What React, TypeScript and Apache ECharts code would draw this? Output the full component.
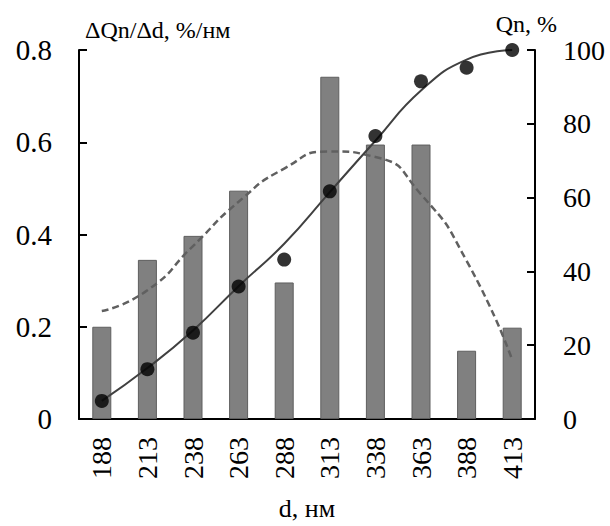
import React, { useEffect, useRef } from "react";
import * as echarts from "echarts";

const categories = ["188", "213", "238", "263", "288", "313", "338", "363", "388", "413"];
const barValues = [0.2, 0.345, 0.397, 0.495, 0.296, 0.742, 0.595, 0.595, 0.148, 0.198];
const dotValues = [4.9, 13.5, 23.4, 35.9, 43.2, 61.7, 76.7, 91.5, 95.2, 100];
const solidCurve = [4.9, 13.8, 24.0, 36.0, 47.5, 61.5, 75.4, 89.0, 97.4, 100];
const dashedCurve = [0.234, 0.279, 0.375, 0.471, 0.543, 0.58, 0.568, 0.487, 0.343, 0.128];
const leftTicks = [0, 0.2, 0.4, 0.6, 0.8];
const rightTicks = [0, 20, 40, 60, 80, 100];

const FONT = "Liberation Serif, Times New Roman, DejaVu Serif, serif";

export default function App() {
  const ref = useRef<HTMLDivElement>(null);
  useEffect(() => {
    if (!ref.current) return;
    const chart = echarts.init(ref.current, undefined, { renderer: "svg" });
    chart.setOption({
      animation: false,
      backgroundColor: "#ffffff",
      textStyle: { fontFamily: FONT },
      grid: { left: 79, right: 75, top: 50, bottom: 97 },
      xAxis: {
        type: "category",
        data: categories,
        name: "d, нм",
        nameLocation: "middle",
        nameGap: 76,
        nameTextStyle: { fontFamily: FONT, fontSize: 26, color: "#000" },
        axisLine: { lineStyle: { color: "#000", width: 2 } },
        axisTick: { inside: true, length: 8, lineStyle: { color: "#000", width: 2 } },
        axisLabel: { rotate: 90, margin: 18, fontFamily: FONT, fontSize: 28, color: "#000" },
      },
      yAxis: [
        {
          type: "value",
          min: leftTicks[0],
          max: leftTicks[leftTicks.length - 1],
          interval: 0.2,
          position: "left",
          name: "ΔQn/Δd, %/нм",
          nameGap: 8,
          nameTextStyle: { fontFamily: FONT, fontSize: 24, color: "#000", align: "left", padding: [0, 0, 0, 6] },
          splitLine: { show: false },
          axisLine: { show: true, lineStyle: { color: "#000", width: 2 } },
          axisTick: { show: true, inside: true, length: 8, lineStyle: { color: "#000", width: 2 } },
          axisLabel: {
            margin: 27,
            fontFamily: FONT,
            fontSize: 29,
            color: "#000",
            formatter: (v: number) => (v === 0 ? "0" : v.toFixed(1)),
          },
        },
        {
          type: "value",
          min: rightTicks[0],
          max: rightTicks[rightTicks.length - 1],
          interval: 20,
          position: "right",
          name: "Qn, %",
          nameGap: 14,
          nameTextStyle: { fontFamily: FONT, fontSize: 24, color: "#000", align: "right", padding: [0, -22, 0, 0] },
          splitLine: { show: false },
          axisLine: { show: true, lineStyle: { color: "#000", width: 2 } },
          axisTick: { show: true, inside: true, length: 8, lineStyle: { color: "#000", width: 2 } },
          axisLabel: { margin: 28, fontFamily: FONT, fontSize: 28, color: "#000" },
        },
      ],
      series: [
        {
          type: "bar",
          data: barValues,
          yAxisIndex: 0,
          barWidth: 19,
          itemStyle: { color: "#808080", borderColor: "#5e5e5e", borderWidth: 1 },
          z: 1,
        },
        {
          type: "line",
          data: dashedCurve,
          yAxisIndex: 0,
          smooth: 0.6,
          showSymbol: false,
          symbol: "none",
          lineStyle: { color: "#606060", width: 2.5, type: [7, 4] },
          z: 2,
        },
        {
          type: "line",
          data: solidCurve,
          yAxisIndex: 1,
          smooth: 0.5,
          showSymbol: false,
          symbol: "none",
          lineStyle: { color: "#404040", width: 2 },
          z: 3,
        },
        {
          type: "scatter",
          data: dotValues,
          yAxisIndex: 1,
          symbolSize: 14,
          itemStyle: { color: "#000" },
          z: 4,
        },
      ],
    });
    return () => chart.dispose();
  }, []);
  return <div ref={ref} style={{ width: 610, height: 526, position: "absolute", left: 0, top: 0 }} />;
}
